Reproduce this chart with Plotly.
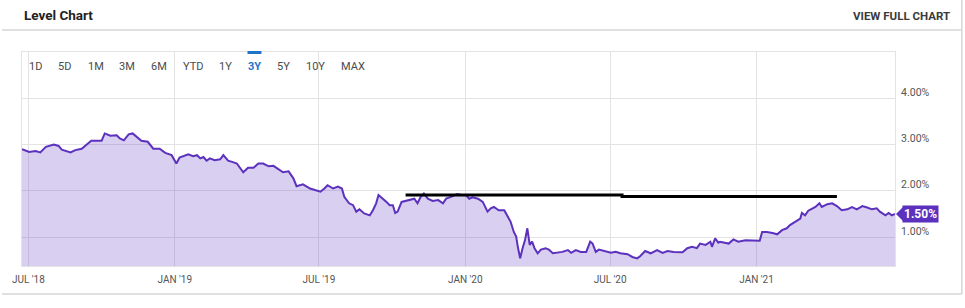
import plotly.graph_objects as go

# ---- data ----
dates = [
    "2018-06-23","2018-07-02","2018-07-10","2018-07-16","2018-07-23","2018-08-02","2018-08-08","2018-08-12",
    "2018-08-23","2018-08-29","2018-09-06","2018-09-12","2018-09-18","2018-09-25","2018-10-01","2018-10-05",
    "2018-10-12","2018-10-20","2018-10-24","2018-10-29","2018-11-04","2018-11-09","2018-11-14","2018-11-20",
    "2018-11-28","2018-12-05","2018-12-13","2018-12-20","2018-12-28","2019-01-03","2019-01-07","2019-01-18",
    "2019-01-24","2019-01-29","2019-02-02","2019-02-06","2019-02-10","2019-02-14","2019-02-20","2019-02-27",
    "2019-03-03","2019-03-09","2019-03-15","2019-03-20","2019-03-28","2019-04-03","2019-04-10","2019-04-16",
    "2019-04-22","2019-04-29","2019-05-05","2019-05-11","2019-05-17","2019-05-24","2019-05-30","2019-06-03",
    "2019-06-11","2019-06-20","2019-06-26","2019-07-03","2019-07-08","2019-07-12","2019-07-19","2019-07-25",
    "2019-07-30","2019-08-02","2019-08-08","2019-08-13","2019-08-17","2019-08-21","2019-08-27","2019-09-03",
    "2019-09-07","2019-09-11","2019-09-14","2019-09-20","2019-09-24","2019-09-28","2019-10-02","2019-10-05",
    "2019-10-08","2019-10-13","2019-10-19","2019-10-25","2019-10-29","2019-11-02","2019-11-06","2019-11-10",
    "2019-11-15","2019-11-21","2019-11-28","2019-12-04","2019-12-08","2019-12-14","2019-12-22","2019-12-27",
    "2020-01-02","2020-01-06","2020-01-10","2020-01-17","2020-01-23","2020-01-29","2020-02-02","2020-02-06",
    "2020-02-12","2020-02-19","2020-02-23","2020-02-27","2020-03-02","2020-03-05","2020-03-07","2020-03-10",
    "2020-03-13","2020-03-16","2020-03-19","2020-03-22","2020-03-25","2020-03-28","2020-04-01","2020-04-05",
    "2020-04-11","2020-04-15","2020-04-20","2020-04-26","2020-05-02","2020-05-09","2020-05-13","2020-05-19",
    "2020-05-25","2020-06-01","2020-06-06","2020-06-09","2020-06-13","2020-06-17","2020-06-23","2020-07-02",
    "2020-07-08","2020-07-14","2020-07-23","2020-07-29","2020-08-04","2020-08-08","2020-08-14","2020-08-21",
    "2020-08-29","2020-09-05","2020-09-11","2020-09-19","2020-09-30","2020-10-06","2020-10-12","2020-10-18",
    "2020-10-22","2020-10-29","2020-11-04","2020-11-06","2020-11-10","2020-11-14","2020-11-16","2020-11-23",
    "2020-11-27","2020-12-03","2020-12-09","2020-12-18","2020-12-27","2021-01-05","2021-01-08","2021-01-14",
    "2021-01-21","2021-01-27","2021-02-02","2021-02-08","2021-02-12","2021-02-19","2021-02-25","2021-02-27",
    "2021-03-03","2021-03-07","2021-03-12","2021-03-16","2021-03-21","2021-03-24","2021-03-31","2021-04-06",
    "2021-04-12","2021-04-18","2021-04-25","2021-05-01","2021-05-07","2021-05-14","2021-05-20","2021-05-26",
    "2021-06-01","2021-06-05","2021-06-12","2021-06-16","2021-06-20","2021-06-24",
]
values = [
    2.90,2.84,2.86,2.83,2.95,3.00,2.97,2.89,
    2.83,2.88,2.91,2.99,3.08,3.08,3.08,3.24,
    3.19,3.20,3.13,3.09,3.22,3.24,3.16,3.08,
    3.06,2.91,2.91,2.82,2.77,2.59,2.72,2.79,
    2.75,2.77,2.70,2.73,2.65,2.70,2.66,2.68,
    2.77,2.65,2.62,2.59,2.40,2.50,2.50,2.59,
    2.59,2.53,2.54,2.46,2.40,2.42,2.27,2.10,
    2.14,2.05,2.01,1.98,2.05,2.12,2.05,2.09,
    2.05,1.87,1.73,1.69,1.55,1.60,1.51,1.47,
    1.58,1.73,1.91,1.83,1.76,1.69,1.69,1.52,
    1.55,1.76,1.78,1.80,1.83,1.73,1.87,1.94,
    1.83,1.78,1.80,1.73,1.83,1.87,1.93,1.91,
    1.91,1.83,1.86,1.83,1.76,1.55,1.62,1.65,
    1.58,1.58,1.47,1.33,1.11,1.01,0.79,0.54,
    0.76,0.93,1.19,0.83,0.90,0.76,0.65,0.73,
    0.76,0.73,0.65,0.66,0.68,0.72,0.66,0.72,
    0.68,0.68,0.90,0.86,0.68,0.73,0.70,0.66,
    0.68,0.65,0.63,0.57,0.54,0.59,0.70,0.65,
    0.72,0.66,0.70,0.68,0.67,0.76,0.79,0.76,
    0.86,0.83,0.90,0.79,0.97,0.88,0.90,0.88,
    0.86,0.95,0.90,0.93,0.93,0.92,1.11,1.11,
    1.09,1.06,1.15,1.19,1.26,1.33,1.40,1.52,
    1.47,1.57,1.62,1.65,1.73,1.65,1.71,1.73,
    1.67,1.58,1.60,1.65,1.60,1.67,1.64,1.60,
    1.62,1.55,1.47,1.52,1.47,1.50,
]

# drawn horizontal reference line (two segments)
ref_dates = ["2019-10-18", "2020-07-16", "2020-07-16", "2021-04-12"]
ref_values = [1.91, 1.91, 1.875, 1.875]

tick_dates = ["2018-07-01", "2019-01-01", "2019-07-01", "2020-01-01", "2020-07-01", "2021-01-01"]
tick_labels = ["JUL '18", "JAN '19", "JUL '19", "JAN '20", "JUL '20", "JAN '21"]
y_ticks = [1, 2, 3, 4]
y_tick_labels = ["1.00%", "2.00%", "3.00%", "4.00%"]
range_buttons = ["1D", "5D", "1M", "3M", "6M", "YTD", "1Y", "3Y", "5Y", "10Y", "MAX"]
active_button = "3Y"
last_label = "1.50%"

# ---- layout helpers (pixel -> paper) ----
W, H = 965, 308
L, R, T, B = 20, 895, 52, 266


def px(x):
    return (x - L) / (R - L)


def py(y):
    return (B - y) / (B - T)


LINE = "rgb(91,49,189)"
FILL = "rgba(91,49,189,0.23)"
FONT = "Roboto"

fig = go.Figure()
fig.add_trace(go.Scatter(
    x=dates, y=values, mode="lines", fill="tozeroy",
    line=dict(color=LINE, width=2), fillcolor=FILL, hoverinfo="skip",
))
fig.add_trace(go.Scatter(
    x=ref_dates, y=ref_values, mode="lines",
    line=dict(color="black", width=3), hoverinfo="skip",
))

button_x = [34, 63, 94, 125, 157, 191, 224, 253, 282, 314, 352]
annotations = []
for name, bx in zip(range_buttons, button_x):
    active = name == active_button
    annotations.append(dict(
        x=px(bx), y=py(67), xref="paper", yref="paper", text=("<b>%s</b>" % name) if active else name,
        showarrow=False, xanchor="center", yanchor="middle",
        font=dict(family=FONT, size=11, color="#1f73c9" if active else "#4a4a4a"),
    ))
annotations.append(dict(
    x=px(20), y=py(15), xref="paper", yref="paper", text="<b>Level Chart</b>",
    showarrow=False, xanchor="left", yanchor="middle",
    font=dict(family=FONT, size=13.5, color="#222"),
))
annotations.append(dict(
    x=px(952), y=py(16), xref="paper", yref="paper", text="<b>VIEW FULL CHART</b>",
    showarrow=False, xanchor="right", yanchor="middle",
    font=dict(family=FONT, size=11.5, color="#3a3a3a"),
))
annotations.append(dict(
    x=1, y=values[-1], xref="paper", yref="y", text="<b>%s</b>" % last_label,
    showarrow=False, xanchor="left", yanchor="middle", xshift=7,
    bgcolor=LINE, borderpad=1,
    font=dict(family=FONT, size=12, color="white"),
))

shapes = [
    dict(type="line", xref="paper", yref="paper", x0=px(0), x1=px(962), y0=py(30), y1=py(30),
         line=dict(color="#d6d6d6", width=1.5)),
    dict(type="line", xref="paper", yref="paper", x0=px(962), x1=px(962), y0=py(0), y1=py(294),
         line=dict(color="#d6d6d6", width=1.5)),
    dict(type="line", xref="paper", yref="paper", x0=px(0), x1=px(962), y0=py(294), y1=py(294),
         line=dict(color="#d6d6d6", width=1.5)),
    dict(type="rect", xref="paper", yref="paper", x0=px(246), x1=px(260), y0=py(51), y1=py(54),
         fillcolor="#1f73c9", line=dict(width=0)),
    dict(type="path", xref="paper", yref="y", xsizemode="pixel", ysizemode="pixel",
         xanchor=1, yanchor=values[-1], path="M1,0 L8,7 L8,-7 Z",
         fillcolor=LINE, line=dict(width=0)),
]

fig.update_layout(
    width=W, height=H,
    margin=dict(l=L, r=W - R, t=T, b=H - B),
    paper_bgcolor="white", plot_bgcolor="white",
    showlegend=False,
    annotations=annotations, shapes=shapes,
    xaxis=dict(
        type="date", range=["2018-06-23", "2021-06-24"],
        tickvals=tick_dates, ticktext=tick_labels,
        showgrid=True, gridcolor="#e3e3e3", gridwidth=1,
        showline=True, linecolor="#e3e3e3", mirror=True,
        ticks="", ticklabelstandoff=4,
        tickfont=dict(family=FONT, size=10, color="#555"),
        zeroline=False, fixedrange=True,
    ),
    yaxis=dict(
        range=[0.375, 5.0], side="right",
        tickvals=y_ticks, ticktext=y_tick_labels,
        showgrid=True, gridcolor="#e3e3e3", gridwidth=1,
        showline=True, linecolor="#e3e3e3", mirror=True,
        ticks="", ticklabelshift=-6, ticklabelstandoff=3,
        tickfont=dict(family=FONT, size=10.5, color="#555"),
        zeroline=False, fixedrange=True,
    ),
)

fig.write_html("out.html", config={"displayModeBar": False})
